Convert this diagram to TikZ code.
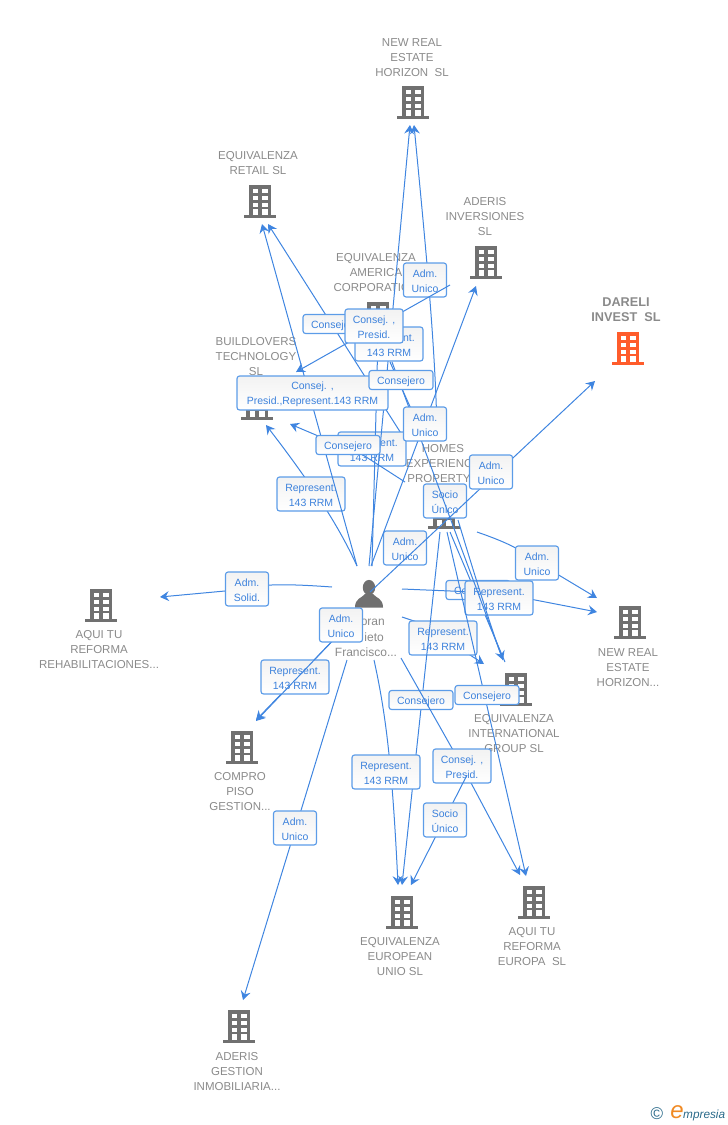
\documentclass[tikz,border=0pt]{standalone}
\usepackage{fontspec}
\setmainfont{Liberation Sans}
\usetikzlibrary{arrows.meta}
\definecolor{edgeblue}{HTML}{3F85E0}
\definecolor{lblborder}{HTML}{5C9CE8}
\definecolor{lbltext}{HTML}{3D82DC}
\definecolor{icongray}{HTML}{707070}
\definecolor{txtgray}{HTML}{8A8A8A}
\definecolor{hilite}{HTML}{FF5C2B}
\definecolor{logoteal}{HTML}{2A6A8A}
\definecolor{logoorange}{HTML}{F08A24}
\newcommand{\lu}{\rule{0pt}{10.5pt}}
\tikzset{
  x=1pt,y=-1pt,
  conn/.style={draw=edgeblue,line width=1pt},
  arr/.style={conn,-{Stealth[length=9pt,width=10pt,inset=3.2pt]}},
  lbl/.style={draw=lblborder,line width=1.15pt,rounded corners=2.6pt,top color=black!5,bottom color=white,
    text=lbltext,font=\fontsize{10.5}{15}\selectfont,align=center,inner sep=0pt,anchor=center},
  two/.style={lbl,minimum width=43pt,minimum height=34pt},
  rep/.style={lbl,minimum width=68pt,minimum height=34pt},
  cons/.style={lbl,minimum width=64pt,minimum height=19pt},
  pres/.style={lbl,minimum width=58pt,minimum height=34pt},
  wide/.style={lbl,minimum width=151pt,minimum height=34pt},
  nametxt/.style={text=txtgray,font=\fontsize{11.5}{15}\selectfont,align=center,inner sep=0pt,anchor=center},
  iconbox/.style={minimum width=30pt,minimum height=34pt,inner sep=0pt},
  pics/bldg/.style={code={
    \fill[#1] (-11,-16) rectangle (11,14);
    \fill[#1] (-16,14) rectangle (16,17);
    \foreach \yy in {-12.5,-5.5,1.5}{
      \fill[white] (-7.5,\yy) rectangle (-2,\yy+4.4);
      \fill[white] (2,\yy) rectangle (7.5,\yy+4.4);
    }
    \fill[white] (-7.5,8.2) rectangle (-2,14);
    \fill[white] (2,8.2) rectangle (7.5,14);
  }}
}
\begin{document}
\begin{tikzpicture}
\useasboundingbox (0,0) rectangle (728,1125);
% ---------- buildings and names
\foreach \nm/\xx/\yy/\cc in {
  iHorizon/413/102/icongray, iRetail/260/201/icongray, iAderis/486/262/icongray,
  iAmerica/378/318/icongray, iDareli/628/348/hilite, iBuild/257/403/icongray,
  iHomes/444/512/icongray, iRehab/101/605/icongray, iHorizonB/630/622/icongray,
  iIntl/516/689/icongray, iCompro/242/747/icongray, iEuro/402/912/icongray,
  iEuropa/534/902/icongray, iGestion/239/1026/icongray}{
  \node[iconbox] (\nm) at (\xx,\yy) {};
  \pic at (\xx,\yy) {bldg=\cc};
}
\node[nametxt] (tHorizon) at (412,58) {NEW REAL\\ESTATE\\HORIZON\ \ SL};
\node[nametxt] (tRetail) at (258,163) {EQUIVALENZA\\RETAIL SL};
\node[nametxt] (tAderis) at (485,217) {ADERIS\\INVERSIONES\\SL};
\node[nametxt] (tAmerica) at (376,273) {EQUIVALENZA\\AMERICA\\CORPORATION};
\node[nametxt,font=\fontsize{12.7}{15}\selectfont\bfseries] (tDareli) at (626,310) {DARELI\\INVEST\ \ SL};
\node[nametxt] (tBuild) at (256,357) {BUILDLOVERS\\TECHNOLOGY\\SL};
\node[nametxt] (tHomes) at (443,464) {HOMES\\EXPERIENCE\\PROPERTY...};
\node[nametxt] (tRehab) at (99,650) {AQUI TU\\REFORMA\\REHABILITACIONES...};
\node[nametxt] (tHorizonB) at (628,668) {NEW REAL\\ESTATE\\HORIZON...};
\node[nametxt] (tIntl) at (514,734) {EQUIVALENZA\\INTERNATIONAL\\GROUP SL};
\node[nametxt] (tCompro) at (240,792) {COMPRO\\PISO\\GESTION...};
\node[nametxt] (tEuro) at (400,957) {EQUIVALENZA\\EUROPEAN\\UNIO SL};
\node[nametxt] (tEuropa) at (532,947) {AQUI TU\\REFORMA\\EUROPA\ \ SL};
\node[nametxt] (tGestion) at (237,1072) {ADERIS\\GESTION\\INMOBILIARIA...};
% ---------- person
\node[minimum width=30pt,minimum height=30pt,inner sep=0pt] (person) at (369,594) {};
\fill[icongray] (369,587.5) ellipse (6.2 and 7.6);
\fill[icongray] (355,607.5) .. controls (355,598) and (362,598) .. (365,594) -- (373,594) .. controls (376,598) and (383,598) .. (383,607.5) -- cycle;
\node[nametxt,font=\fontsize{12}{15}\selectfont,anchor=east] (tPerson1) at (385,622.5) {oran};
\node[nametxt,font=\fontsize{12}{15}\selectfont,anchor=east] (tPerson2) at (384,637.5) {ieto};
\node[nametxt,font=\fontsize{12}{15}\selectfont] (tPerson3) at (366,652.5) {Francisco...};
% ---------- connector ends
\coordinate (pTop) at (369,566);
\coordinate (hzA) at (410,125);
\coordinate (hzB) at (414,125);
\coordinate (rtA) at (262,224);
\coordinate (rtB) at (268,224);
\coordinate (adA) at (476,286);
\coordinate (buA) at (296,372);
\coordinate (buB) at (266,425);
\coordinate (buC) at (290,424);
\coordinate (daA) at (595,381);
\coordinate (reA) at (160,597);
\coordinate (hbA) at (597,598);
\coordinate (hbB) at (597,612);
\coordinate (inA) at (505,662);
\coordinate (inB) at (484,664);
\coordinate (inC) at (503,660);
\coordinate (coA) at (256,720);
\coordinate (coB) at (256,721);
\coordinate (euA) at (398,885);
\coordinate (euB) at (402,885);
\coordinate (euC) at (411,885);
\coordinate (upA) at (520,875);
\coordinate (upB) at (526,876);
\coordinate (geA) at (243,1000);
% ---------- labels and connectors, in stacking order
\coordinate (s1) at (357,566);
\draw[arr] (s1) .. controls (343,535) and (320,495) .. (buB);
\node[rep] (l1) at (311,494) {\lu Represent.\\143 RRM};
\coordinate (s2) at (332,587);
\draw[arr] (s2) .. controls (290,584) and (260,583) .. (225,591) -- (reA);
\node[two] (l2) at (247,589) {\lu Adm.\\Solid.};
\coordinate (s3) at (477,532);
\draw[arr] (s3) .. controls (500,540) and (520,548) .. (537,562) -- (hbA);
\node[two] (l3) at (537,563) {\lu Adm.\\Unico};
\coordinate (s4) at (402,617);
\draw[arr] (s4) -- (420,623) -- (470,655) -- (inB);
\node[rep] (l4) at (443,638) {\lu Represent.\\143 RRM};
\coordinate (s5) at (345,628);
\draw[arr] (s5) -- (coA);
\node[rep] (l5) at (295,677) {\lu Represent.\\143 RRM};
\coordinate (s6) at (450,532);
\draw[conn] (s6) -- (inA);
\node[cons] (l6) at (478,590) {\lu Consejero};
\coordinate (s7) at (402,589);
\draw[arr] (s7) -- (499,593) -- (hbB);
\node[rep] (l7) at (499,598) {\lu Represent.\\143 RRM};
\coordinate (s8) at (458,520);
\draw[arr] (s8) .. controls (470,560) and (490,625) .. (inC);
\coordinate (s9) at (440,532);
\draw[arr] (s9) -- (euB);
\node[cons] (l9) at (421,700) {\lu Consejero};
\coordinate (s10) at (447,532);
\draw[arr] (s10) -- (upB);
\node[cons] (l10) at (487,695) {\lu Consejero};
\coordinate (s11) at (374,660);
\draw[arr] (s11) .. controls (385,710) and (392,760) .. (euA);
\node[rep] (l11) at (386,772) {\lu Represent.\\143 RRM};
\coordinate (s12) at (401,658);
\draw[arr] (s12) -- (462,766) -- (upA);
\node[pres] (l12) at (462,766) {\lu Consej. ,\\Presid.};
\coordinate (s13) at (467,775);
\draw[arr] (s13) -- (euC);
\node[two] (l13) at (445,820) {\lu Socio\\Único};
\coordinate (s14) at (347,660);
\draw[arr] (s14) -- (geA);
\node[two] (l14) at (295,828) {\lu Adm.\\Unico};
\node[two] (l15) at (405,548) {\lu Adm.\\Unico};
\node[two] (l16) at (445,501) {\lu Socio\\Único};
\coordinate (s17) at (370,592);
\draw[arr] (s17) -- (daA);
\node[two] (l17) at (491,472) {\lu Adm.\\Unico};
\coordinate (s18) at (360,612);
\draw[arr] (s18) -- (coB);
\node[two] (l18) at (341,625) {\lu Adm.\\Unico};
% upper cluster
\coordinate (s19) at (404,438);
\draw[arr] (s19) -- (rtB);
\node[cons] (l19) at (335,324) {\lu Consejero};
\coordinate (s20) at (437,430);
\draw[arr] (s20) .. controls (435,340) and (425,240) .. (hzB);
\node[two] (l20) at (425,280) {\lu Adm.\\Unico};
\node[rep] (l21) at (372,449) {\lu Represent.\\143 RRM};
\coordinate (s21) at (378,336);
\coordinate (e21) at (372,566);
\draw[conn] (s21) -- (e21);
\draw[arr] (pTop) -- (hzA);
\node[rep] (l22) at (389,344) {\lu Represent.\\143 RRM};
\coordinate (s23) at (390,362);
\coordinate (e23) at (425,440);
\draw[conn] (s23) -- (e23);
\coordinate (s24) at (392,362);
\draw[conn] (s24) -- (inC);
\coordinate (s25) at (357,566);
\draw[arr] (s25) -- (rtA);
\node[wide] (l25) at (312.5,393) {\lu Consej. ,\\Presid.,Represent.143 RRM};
\node[cons] (l24) at (401,380) {\lu Consejero};
\coordinate (s26) at (450,285);
\draw[arr] (s26) -- (buA);
\node[pres] (l26) at (374,326) {\lu Consej. ,\\Presid.};
\coordinate (s27) at (371,566);
\draw[arr] (s27) -- (adA);
\node[two] (l27) at (425,424) {\lu Adm.\\Unico};
\coordinate (s28) at (405,482);
\draw[arr] (s28) -- (363,455) -- (buC);
\node[cons] (l28) at (348,445) {\lu Consejero};
% ---------- logo
\node[text=logoteal,font=\fontsize{17}{17}\selectfont,inner sep=0pt] (logoC) at (657,1114) {©};
\node[text=logoorange,font=\fontsize{24}{24}\selectfont\itshape,inner sep=0pt] (logoE) at (677,1112) {e};
\node[text=logoteal,font=\fontsize{11.8}{15}\selectfont\itshape,inner sep=0pt,anchor=west] (logoT) at (683,1115) {mpresia};
\end{tikzpicture}
\end{document}
